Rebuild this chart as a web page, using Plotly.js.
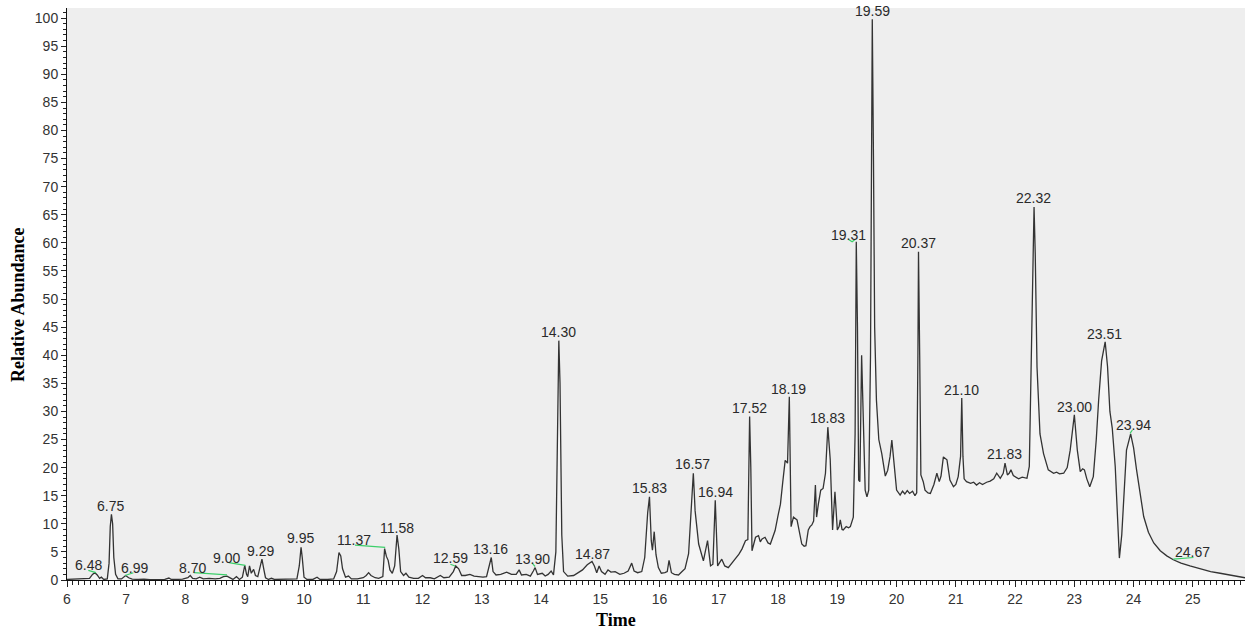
<!DOCTYPE html>
<html>
<head>
<meta charset="utf-8">
<script src="https://cdn.plot.ly/plotly-3.0.1.min.js"></script>
<style>html,body{margin:0;padding:0;background:#fff;}#chart{width:1245px;height:630px;}</style>
</head>
<body>
<div id="chart"></div>
<script>
// Retention time (min)
var time = [
6.00,6.10,6.20,6.30,6.38,6.43,6.47,6.51,6.55,6.58,6.62,6.68,6.71,6.73,6.75,6.77,6.79,6.82,6.86,6.92,
6.96,6.99,7.04,7.10,7.20,7.30,7.40,7.50,7.60,7.65,7.72,7.76,7.85,7.95,8.04,8.08,8.12,8.18,8.24,8.30,
8.40,8.50,8.58,8.64,8.70,8.75,8.80,8.86,8.91,8.96,9.00,9.03,9.05,9.08,9.11,9.15,9.18,9.22,9.26,9.29,
9.32,9.35,9.40,9.45,9.50,9.60,9.70,9.80,9.88,9.92,9.95,9.97,10.00,10.05,10.15,10.22,10.27,10.40,10.50,10.55,
10.59,10.62,10.65,10.70,10.75,10.80,10.90,11.00,11.05,11.09,11.13,11.20,11.26,11.33,11.36,11.39,11.42,11.45,11.49,11.53,
11.57,11.60,11.63,11.68,11.72,11.77,11.85,11.93,12.00,12.05,12.13,12.20,12.30,12.36,12.45,12.52,12.56,12.61,12.66,12.72,
12.80,12.87,12.95,13.02,13.08,13.13,13.16,13.19,13.24,13.32,13.42,13.50,13.58,13.63,13.67,13.75,13.82,13.87,13.90,13.94,
14.02,14.07,14.12,14.17,14.21,14.25,14.28,14.30,14.32,14.35,14.38,14.45,14.55,14.62,14.70,14.78,14.86,14.90,14.94,14.98,
15.02,15.08,15.13,15.18,15.25,15.33,15.40,15.47,15.53,15.57,15.63,15.70,15.75,15.80,15.83,15.86,15.88,15.91,15.94,15.98,
16.03,16.09,16.13,16.16,16.20,16.25,16.32,16.38,16.43,16.49,16.54,16.57,16.60,16.66,16.74,16.81,16.86,16.90,16.94,16.98,
17.05,17.10,17.16,17.22,17.28,17.34,17.39,17.45,17.49,17.52,17.54,17.56,17.62,17.67,17.70,17.73,17.78,17.83,17.87,17.91,
17.95,18.00,18.04,18.08,18.12,18.16,18.19,18.22,18.26,18.32,18.36,18.40,18.44,18.47,18.51,18.54,18.57,18.60,18.63,18.65,
18.68,18.70,18.72,18.76,18.80,18.84,18.88,18.92,18.96,19.00,19.03,19.05,19.08,19.10,19.15,19.19,19.22,19.27,19.30,19.32,
19.34,19.36,19.38,19.41,19.44,19.47,19.50,19.53,19.56,19.58,19.59,19.61,19.63,19.66,19.70,19.75,19.81,19.85,19.89,19.92,
19.95,20.00,20.06,20.10,20.14,20.18,20.22,20.27,20.31,20.34,20.36,20.37,20.39,20.41,20.45,20.48,20.53,20.57,20.63,20.68,
20.72,20.75,20.79,20.85,20.90,20.96,21.00,21.04,21.08,21.10,21.12,21.14,21.18,21.25,21.30,21.35,21.40,21.45,21.52,21.58,
21.64,21.69,21.75,21.80,21.83,21.87,21.90,21.93,21.97,22.00,22.06,22.12,22.20,22.24,22.27,22.30,22.32,22.34,22.37,22.42,
22.48,22.56,22.65,22.70,22.75,22.82,22.88,22.93,23.00,23.05,23.10,23.14,23.17,23.21,23.26,23.32,23.37,23.41,23.46,23.52,
23.56,23.60,23.64,23.69,23.73,23.76,23.80,23.83,23.88,23.95,24.00,24.05,24.11,24.17,24.25,24.34,24.45,24.56,24.67,24.80,
24.95,25.12,25.30,25.46,25.65,25.88
];
// Relative abundance (%)
var abundance = [
0.1,0.15,0.1,0.15,0.3,1.0,1.3,0.9,0.3,0.5,0.1,0.2,3.0,9.5,11.7,10.0,4.0,1.0,0.2,0.2,
0.6,0.8,0.4,0.15,0.1,0.15,0.05,0.1,0.2,0.1,0.35,0.1,0.1,0.15,0.4,0.8,0.3,0.2,0.5,0.2,
0.3,0.2,0.3,0.6,0.7,0.4,0.1,0.6,0.1,0.5,2.6,1.0,0.6,2.5,1.2,1.9,0.8,0.6,2.4,3.7,
2.0,0.4,0.1,0.3,0.1,0.1,0.15,0.1,0.2,2.5,5.8,4.0,0.5,0.1,0.1,0.5,0.1,0.1,0.2,1.5,
4.9,4.3,2.0,0.5,0.7,0.2,0.2,0.4,0.8,1.3,0.8,0.4,0.3,0.6,5.6,4.2,3.5,1.8,1.2,2.5,
8.0,5.5,1.5,0.8,1.2,0.5,0.3,0.3,0.8,0.4,0.4,0.2,0.8,0.4,0.5,1.5,2.5,2.0,0.8,0.8,
1.0,0.7,0.6,0.5,0.6,2.5,4.0,1.5,0.9,1.0,1.4,1.0,1.0,1.8,0.9,1.0,0.7,1.6,2.2,1.0,
1.2,0.7,1.0,1.6,0.9,5.0,30.0,42.6,35.0,8.0,1.5,0.7,0.8,1.3,1.8,2.7,3.3,2.5,1.3,2.5,
1.5,1.0,1.8,1.4,1.5,1.0,1.2,1.6,3.0,1.6,1.3,1.5,4.0,12.0,14.8,7.0,5.3,8.6,4.5,2.2,
1.2,1.3,1.5,3.5,1.3,1.0,0.9,1.5,2.0,4.7,15.0,19.0,12.3,6.4,3.4,7.0,2.5,2.8,14.2,2.5,
3.7,2.5,2.2,3.0,4.0,4.6,5.5,7.0,7.2,29.1,20.0,5.2,7.6,7.9,6.8,7.3,7.6,6.6,6.4,7.8,
8.8,11.5,13.5,17.5,21.3,20.8,32.6,9.5,11.2,10.7,8.5,6.4,6.0,6.1,8.9,9.5,9.8,10.5,16.9,11.2,
13.5,14.5,16.0,16.3,19.0,27.2,21.5,8.9,15.7,8.9,9.5,10.7,9.0,8.9,9.5,9.3,9.5,11.2,26.0,60.2,
45.0,17.8,17.5,40.0,25.0,16.0,14.8,16.0,40.0,75.0,99.8,75.0,45.0,32.0,25.0,22.5,18.5,19.5,22.0,24.9,
22.0,16.0,15.1,15.8,15.3,15.9,15.4,15.8,15.0,15.5,40.0,58.4,40.0,18.7,17.5,16.0,15.5,15.4,17.0,19.0,
17.5,18.5,21.9,21.4,17.8,16.6,17.0,18.4,22.0,32.4,22.0,18.0,17.5,17.2,17.4,16.9,17.3,17.0,17.4,17.6,
18.0,19.0,18.1,19.0,20.8,18.7,19.0,19.6,18.6,18.4,18.0,18.3,18.1,20.2,40.0,60.0,66.4,58.0,37.9,26.0,
22.5,19.6,19.0,19.2,18.9,19.0,20.0,23.1,29.4,23.1,19.3,19.8,19.6,18.0,16.6,18.4,25.0,32.0,39.0,42.4,
38.0,30.0,27.0,20.2,10.0,3.9,8.0,14.2,23.1,26.0,23.5,19.6,15.0,11.3,8.5,6.6,5.2,4.3,3.6,3.0,
2.5,2.0,1.5,1.2,0.8,0.4
];
// Peak labels and where they are written (time, abundance)
var peakLabels = ["6.48","6.75","6.99","8.70","9.00","9.29","9.95","11.37","11.58","12.59","13.16","13.90","14.30","14.87","15.83",
                  "16.57","16.94","17.52","18.19","18.83","19.31","19.59","20.37","21.10","21.83","22.32","23.00","23.51","23.94","24.67"];
var labelTime = [6.36,6.73,7.14,8.11,8.70,9.27,9.94,10.85,11.57,12.47,13.15,13.85,14.30,14.86,15.83,
                 16.56,16.94,17.52,18.18,18.84,19.19,19.59,20.37,21.09,21.82,22.31,23.00,23.51,23.99,25.00];
var labelAbund = [2.7,13.2,2.2,2.2,4.0,5.2,7.4,7.2,9.3,4.0,5.6,3.8,44.1,4.6,16.3,
                  20.6,15.7,30.7,34.0,28.8,61.4,101.3,59.9,33.8,22.4,67.9,30.8,43.8,27.5,4.9];
// Green leader segments (time, abundance), null separates segments
var leaderTime = [6.36,6.49,null,6.98,7.12,null,8.14,8.70,null,8.73,9.01,null,10.86,11.37,null,12.47,12.55,null,13.85,13.90,null,19.19,19.25,19.30,null,23.94,23.98,null,24.67,25.01];
var leaderAbund = [1.7,1.3,null,0.8,1.3,null,1.3,0.9,null,3.1,2.6,null,6.2,5.8,null,2.8,2.5,null,3.0,2.4,null,60.6,60.2,60.6,null,26.1,26.7,null,3.7,4.0];
// Axis titles
var xTitle = 'Time';
var yTitle = 'Relative Abundance';

var traces = [
  {x: time, y: abundance, type: 'scatter', mode: 'lines', fill: 'tozeroy',
   fillcolor: '#f5f5f5', line: {color: '#333333', width: 1.3}, hoverinfo: 'x+y'},
  {x: leaderTime, y: leaderAbund, type: 'scatter', mode: 'lines', connectgaps: false,
   line: {color: '#3ccf6a', width: 1.2}, hoverinfo: 'skip'}
];

var labelFont = {family: 'Liberation Sans, Arial, sans-serif', size: 14, color: '#2a2a2a'};
var annotations = peakLabels.map(function(t, i) {
  return {x: labelTime[i], y: labelAbund[i], xref: 'x', yref: 'y', text: t, showarrow: false,
          xanchor: 'center', yanchor: 'middle', font: labelFont};
});
var titleFont = {family: 'Liberation Serif, Times New Roman, serif', size: 18, color: '#000', weight: 'bold'};
annotations.push({xref: 'paper', yref: 'paper', x: (616 - 67) / 1178, y: -0.0699, text: xTitle,
  showarrow: false, xanchor: 'center', yanchor: 'middle', font: titleFont});
annotations.push({xref: 'paper', yref: 'paper', x: (18 - 67) / 1178, y: (580 - 305) / 572, text: yTitle,
  showarrow: false, xanchor: 'center', yanchor: 'middle', textangle: -90, font: titleFont});

var tickFont = {family: 'Liberation Sans, Arial, sans-serif', size: 14, color: '#333'};
var layout = {
  width: 1245, height: 630,
  margin: {l: 67, r: 0, t: 8, b: 50, pad: 0},
  paper_bgcolor: '#ffffff', plot_bgcolor: '#eeeeee',
  showlegend: false,
  xaxis: {
    range: [6, 25.88], tick0: 6, dtick: 1, ticks: 'outside', ticklen: 6, tickwidth: 1, tickcolor: '#222',
    minor: {dtick: 0.1, ticks: 'outside', ticklen: 4, tickcolor: '#222', showgrid: false},
    showline: true, linecolor: '#111', linewidth: 1, showgrid: false, zeroline: false, automargin: false,
    tickfont: tickFont
  },
  yaxis: {
    range: [0, 101.8], tick0: 0, dtick: 5, ticks: 'outside', ticklen: 5, tickwidth: 1, tickcolor: '#222',
    minor: {dtick: 1, ticks: 'outside', ticklen: 3, tickcolor: '#222', showgrid: false},
    showline: true, linecolor: '#111', linewidth: 1, showgrid: false, zeroline: false, automargin: false,
    tickfont: tickFont
  },
  annotations: annotations
};

Plotly.newPlot('chart', traces, layout, {displayModeBar: false, staticPlot: true});
</script>
</body>
</html>
